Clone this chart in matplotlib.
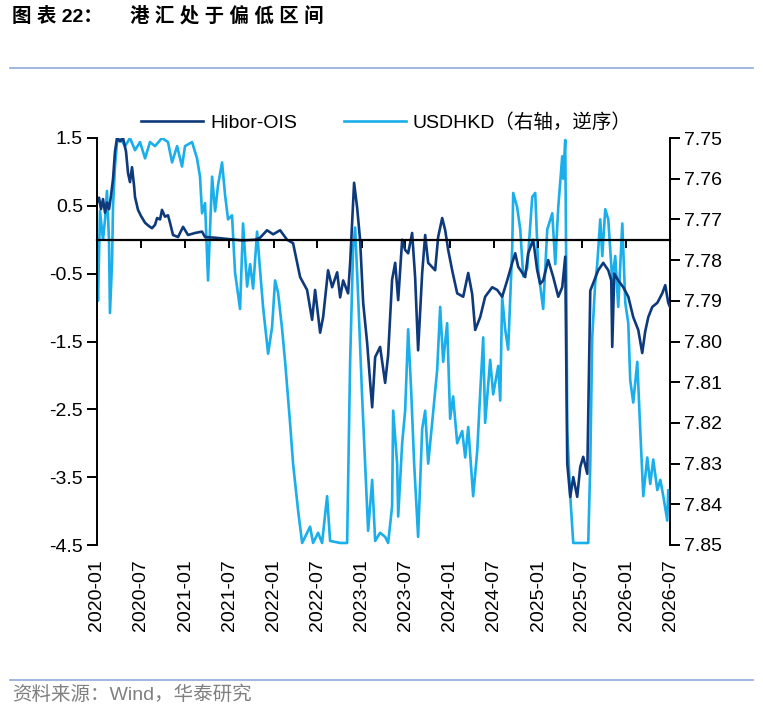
import numpy as np
import pandas as pd
import matplotlib
matplotlib.use('Agg')
import matplotlib.pyplot as plt
import matplotlib.dates as mdates
from matplotlib.lines import Line2D

plt.rcParams['font.family'] = ['Liberation Sans', 'Noto Sans CJK SC']

# years since 2020-01-01
hibor_yr = [0.000, 0.023, 0.045, 0.068, 0.091, 0.113, 0.136, 0.159, 0.182, 0.204,
            0.227, 0.261, 0.295, 0.329, 0.352, 0.374, 0.397, 0.420, 0.431, 0.465,
            0.499, 0.545, 0.590, 0.624, 0.658, 0.681, 0.715, 0.737, 0.771, 0.805,
            0.828, 0.862, 0.919, 0.976, 1.032, 1.112, 1.191, 1.225, 1.339, 1.486,
            1.645, 1.792, 1.849, 1.928, 1.997, 2.076, 2.155, 2.223, 2.303, 2.382,
            2.439, 2.473, 2.530, 2.564, 2.620, 2.666, 2.723, 2.757, 2.791, 2.847,
            2.870, 2.915, 2.949, 2.983, 3.018, 3.063, 3.097, 3.120, 3.154, 3.210,
            3.267, 3.301, 3.346, 3.381, 3.415, 3.460, 3.494, 3.528, 3.573, 3.607,
            3.641, 3.687, 3.721, 3.755, 3.834, 3.868, 3.914, 3.948, 3.982, 4.027,
            4.084, 4.152, 4.209, 4.254, 4.288, 4.345, 4.401, 4.481, 4.538, 4.594,
            4.651, 4.708, 4.742, 4.776, 4.855, 4.889, 4.946, 4.991, 5.025, 5.059,
            5.116, 5.173, 5.230, 5.275, 5.309, 5.332, 5.366, 5.400, 5.445, 5.479,
            5.513, 5.559, 5.593, 5.683, 5.740, 5.797, 5.831, 5.842, 5.865, 5.910,
            5.967, 6.024, 6.080, 6.137, 6.182, 6.216, 6.251, 6.296, 6.353, 6.409,
            6.443, 6.477, 6.500]
hibor_ois = [0.55, 0.62, 0.45, 0.60, 0.40, 0.55, 0.45, 0.65, 0.90, 1.30,
             1.50, 1.45, 1.50, 1.30, 0.98, 0.85, 1.07, 0.80, 0.63, 0.44,
             0.35, 0.25, 0.20, 0.17, 0.22, 0.32, 0.30, 0.44, 0.34, 0.36,
             0.25, 0.07, 0.04, 0.19, 0.07, 0.10, 0.12, 0.04, 0.03, 0.01,
             -0.01, 0.00, 0.03, 0.14, 0.08, 0.14, 0.00, -0.05, -0.55, -0.74,
             -1.18, -0.74, -1.37, -1.14, -0.45, -0.70, -0.48, -0.85, -0.60, -0.79,
             -0.35, 0.84, 0.48, 0.00, -0.93, -1.52, -2.10, -2.47, -1.73, -1.58,
             -2.11, -1.70, -0.59, -0.34, -0.89, 0.00, -0.15, -0.20, 0.10, -0.55,
             -1.63, -0.49, 0.07, -0.34, -0.45, 0.04, 0.32, 0.14, -0.15, -0.45,
             -0.79, -0.84, -0.49, -0.80, -1.33, -1.14, -0.84, -0.70, -0.74, -0.84,
             -0.60, -0.34, -0.20, -0.40, -0.55, -0.20, 0.00, -0.45, -0.65, -0.60,
             -0.30, -0.55, -0.84, -0.70, -0.25, -3.30, -3.79, -3.50, -3.79, -3.35,
             -3.20, -3.45, -0.75, -0.45, -0.34, -0.45, -0.60, -1.58, -0.50, -0.60,
             -0.70, -0.84, -1.14, -1.33, -1.67, -1.35, -1.14, -0.99, -0.93, -0.79,
             -0.67, -0.93, -1.00]

usd_yr = [0.000, 0.011, 0.034, 0.068, 0.091, 0.113, 0.136, 0.147, 0.170, 0.182,
          0.204, 0.227, 0.261, 0.318, 0.374, 0.431, 0.488, 0.545, 0.601, 0.658,
          0.737, 0.805, 0.851, 0.908, 0.964, 0.998, 1.078, 1.134, 1.168, 1.191,
          1.225, 1.259, 1.305, 1.339, 1.373, 1.418, 1.452, 1.486, 1.531, 1.565,
          1.622, 1.656, 1.702, 1.736, 1.770, 1.815, 1.849, 1.883, 1.940, 1.985,
          2.019, 2.053, 2.099, 2.133, 2.189, 2.223, 2.280, 2.326, 2.360, 2.416,
          2.450, 2.507, 2.552, 2.609, 2.643, 2.757, 2.836, 2.870, 2.904, 2.927,
          2.961, 3.006, 3.040, 3.074, 3.120, 3.154, 3.210, 3.267, 3.301, 3.346,
          3.358, 3.403, 3.415, 3.460, 3.494, 3.528, 3.562, 3.596, 3.641, 3.687,
          3.721, 3.755, 3.800, 3.857, 3.891, 3.925, 3.970, 4.004, 4.038, 4.084,
          4.141, 4.175, 4.209, 4.265, 4.311, 4.345, 4.379, 4.401, 4.458, 4.492,
          4.549, 4.572, 4.594, 4.628, 4.662, 4.708, 4.719, 4.764, 4.799, 4.833,
          4.878, 4.935, 4.969, 5.003, 5.059, 5.105, 5.162, 5.196, 5.230, 5.275,
          5.286, 5.309, 5.320, 5.332, 5.366, 5.400, 5.570, 5.593, 5.615, 5.649,
          5.672, 5.706, 5.729, 5.763, 5.797, 5.842, 5.876, 5.910, 5.956, 5.990,
          6.024, 6.046, 6.080, 6.126, 6.160, 6.194, 6.239, 6.273, 6.307, 6.353,
          6.387, 6.421, 6.466, 6.477, 6.500]
usdhkd = [7.779, 7.790, 7.768, 7.775, 7.770, 7.763, 7.775, 7.793, 7.781, 7.7665,
          7.757, 7.751, 7.750, 7.752, 7.750, 7.753, 7.751, 7.755, 7.751, 7.752,
          7.750, 7.751, 7.756, 7.752, 7.757, 7.752, 7.751, 7.755, 7.7595, 7.7685,
          7.766, 7.785, 7.7595, 7.768, 7.7615, 7.756, 7.764, 7.770, 7.769, 7.783,
          7.792, 7.771, 7.7865, 7.781, 7.787, 7.773, 7.7825, 7.7915, 7.803, 7.7965,
          7.785, 7.788, 7.797, 7.805, 7.820, 7.830, 7.8415, 7.8495, 7.848, 7.8455,
          7.8495, 7.847, 7.8495, 7.838, 7.849, 7.8495, 7.8495, 7.805, 7.777, 7.772,
          7.789, 7.8135, 7.830, 7.8465, 7.834, 7.849, 7.847, 7.848, 7.8495, 7.8405,
          7.817, 7.830, 7.843, 7.825, 7.817, 7.797, 7.812, 7.830, 7.848, 7.8215,
          7.817, 7.830, 7.820, 7.807, 7.7915, 7.805, 7.7955, 7.819, 7.8135, 7.825,
          7.822, 7.8285, 7.821, 7.838, 7.827, 7.8125, 7.799, 7.820, 7.8045, 7.813,
          7.806, 7.8145, 7.789, 7.797, 7.802, 7.777, 7.7635, 7.767, 7.7725, 7.784,
          7.782, 7.7645, 7.7635, 7.7825, 7.792, 7.7725, 7.7685, 7.781, 7.767, 7.7545,
          7.760, 7.7505, 7.781, 7.822, 7.838, 7.8495, 7.8495, 7.830, 7.799, 7.7855,
          7.781, 7.770, 7.779, 7.7675, 7.770, 7.785, 7.779, 7.7915, 7.771, 7.7905,
          7.7955, 7.8095, 7.815, 7.805, 7.822, 7.838, 7.8285, 7.835, 7.829, 7.8365,
          7.834, 7.838, 7.844, 7.8365, 7.839]

start = pd.Timestamp('2020-01-01')
hibor_dates = start + pd.to_timedelta(np.array(hibor_yr) * 365.25, unit='D')
usd_dates = start + pd.to_timedelta(np.array(usd_yr) * 365.25, unit='D')

dark = '#0E3A7C'
light = '#1AAEEA'
fs = 14

fig = plt.figure(figsize=(7.63, 7.12), dpi=100)
ax = fig.add_axes([97 / 763, 167 / 712, 573 / 763, 407 / 712])
ax2 = ax.twinx()

l2, = ax2.plot(usd_dates, usdhkd, color=light, lw=1.9, label='USDHKD（右轴，逆序）')
l1, = ax.plot(hibor_dates, hibor_ois, color=dark, lw=1.9, label='Hibor-OIS')
ax.set_zorder(ax2.get_zorder() + 1)
ax.patch.set_visible(False)

ax.set_ylim(-4.5, 1.5)
ax.set_yticks(np.arange(-4.5, 1.6, 1.0))
ax.set_yticklabels([f'{v:.1f}' for v in np.arange(-4.5, 1.6, 1.0)])
ax2.set_ylim(7.85, 7.75)
ax2.set_yticks(np.arange(7.75, 7.851, 0.01))
ax2.set_yticklabels([f'{v:.2f}' for v in np.arange(7.75, 7.851, 0.01)])

ax.set_xlim(start, pd.Timestamp('2026-07-01'))
ax.xaxis.set_major_locator(mdates.MonthLocator(bymonth=(1, 7)))

for s in ['top', 'right']:
    ax.spines[s].set_visible(False)
for s in ['top', 'bottom', 'left']:
    ax2.spines[s].set_visible(False)
ax.spines['bottom'].set_position(('data', 0))
ax.spines['bottom'].set_linewidth(1.6)
ax.spines['left'].set_linewidth(1.4)
ax2.spines['right'].set_linewidth(1.4)

ax.tick_params(axis='x', labelbottom=False, direction='out', length=6, width=1.4)
ax.tick_params(axis='y', direction='out', length=7, width=1.4, labelsize=fs, pad=3)
ax2.tick_params(axis='y', direction='out', length=7, width=1.4, labelsize=fs, pad=3)

sec = ax.secondary_xaxis('bottom')
sec.xaxis.set_major_locator(mdates.MonthLocator(bymonth=(1, 7)))
sec.xaxis.set_major_formatter(mdates.DateFormatter('%Y-%m'))
sec.tick_params(length=0, labelsize=fs, pad=10)
sec.spines['bottom'].set_visible(False)
for lab in sec.get_xticklabels():
    lab.set_rotation(90)

ax.legend(handles=[l1, l2], loc='center', bbox_to_anchor=(0.505, 1.037), ncol=2,
          frameon=False, fontsize=fs, handlelength=3.2, handletextpad=0.35,
          columnspacing=2.4)

fig.text(12 / 763, 1 - 16 / 712, '图 表 22：', fontsize=14, fontweight='bold', va='center')
fig.text(130 / 763, 1 - 16 / 712, '港 汇 处 于 偏 低 区 间', fontsize=14,
         fontweight='bold', va='center')
fig.add_artist(Line2D([10 / 763, 753 / 763], [1 - 68 / 712, 1 - 68 / 712],
                      color='#8EA9D8', lw=1.2, transform=fig.transFigure))
fig.add_artist(Line2D([10 / 763, 753 / 763], [1 - 680 / 712, 1 - 680 / 712],
                      color='#8EA9D8', lw=1.2, transform=fig.transFigure))
fig.text(12 / 763, 1 - 695 / 712, '资料来源：Wind，华泰研究', fontsize=14,
         color='#808080', va='center')

fig.savefig('out.png', dpi=100)
